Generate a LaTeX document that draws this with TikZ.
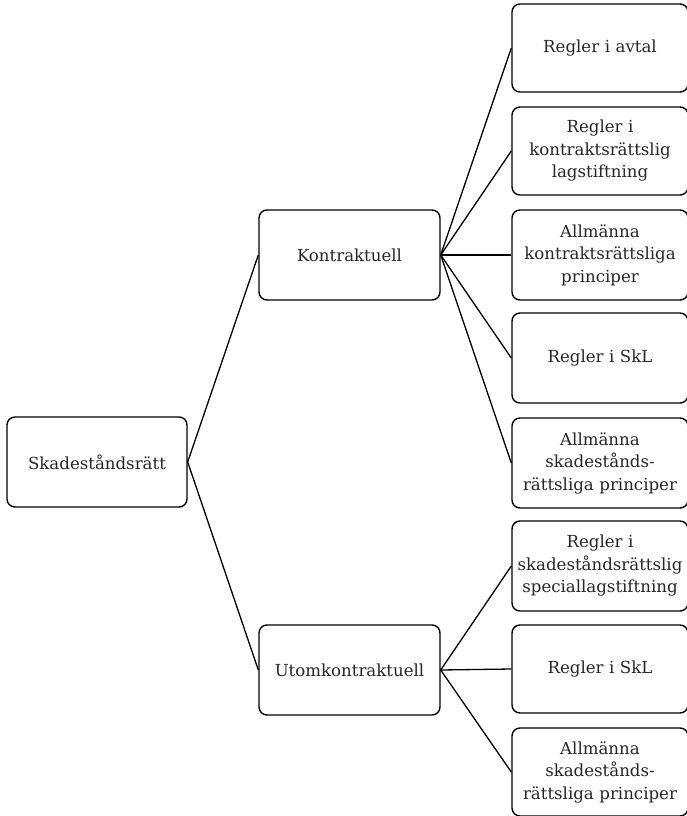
\documentclass[tikz,border=0pt]{standalone}
\usepackage{fontspec}
\setmainfont{DejaVu Serif}
\begin{document}
\begin{tikzpicture}[x=1pt,y=-1pt,
  box/.style={draw, line width=1.4pt, rounded corners=8pt, inner sep=0pt,
    align=center, font=\fontsize{16.6}{22.5}\selectfont, text=black!85},
  leafbox/.style={box, minimum width=176pt, minimum height=88pt, text width=172pt},
  midbox/.style={box, minimum width=181pt, minimum height=90pt},
  link/.style={line width=1.3pt}]
\useasboundingbox (0,0) rectangle (686,816);
\node[midbox, minimum width=180pt] (root) at (97,462) {Skadeståndsrätt};
\node[midbox] (k) at (349.5,255) {Kontraktuell};
\node[midbox] (u) at (349.5,670) {Utomkontraktuell};
\node[leafbox] (l1) at (600,48) {Regler i avtal};
\node[leafbox] (l2) at (600,151) {Regler i\\kontraktsrättslig\\lagstiftning};
\node[leafbox, minimum height=90pt] (l3) at (600,255) {Allmänna\\kontraktsrättsliga\\principer};
\node[leafbox, minimum height=90pt] (l4) at (600,358) {Regler i SkL};
\node[leafbox, minimum height=90pt] (l5) at (600,463) {Allmänna\\skadestånds-\\rättsliga principer};
\node[leafbox, minimum height=90pt] (l6) at (600,566) {Regler i\\skadeståndsrättslig\\speciallagstiftning};
\node[leafbox] (l7) at (600,669) {Regler i SkL};
\node[leafbox] (l8) at (600,772) {Allmänna\\skadestånds-\\rättsliga principer};
\draw[link] (root.east) -- (k.west);
\draw[link] (root.east) -- (u.west);
\foreach \n in {l1,l2,l3,l4,l5} \draw[link] (k.east) -- (\n.west);
\foreach \n in {l6,l7,l8} \draw[link] (u.east) -- (\n.west);
\end{tikzpicture}
\end{document}
